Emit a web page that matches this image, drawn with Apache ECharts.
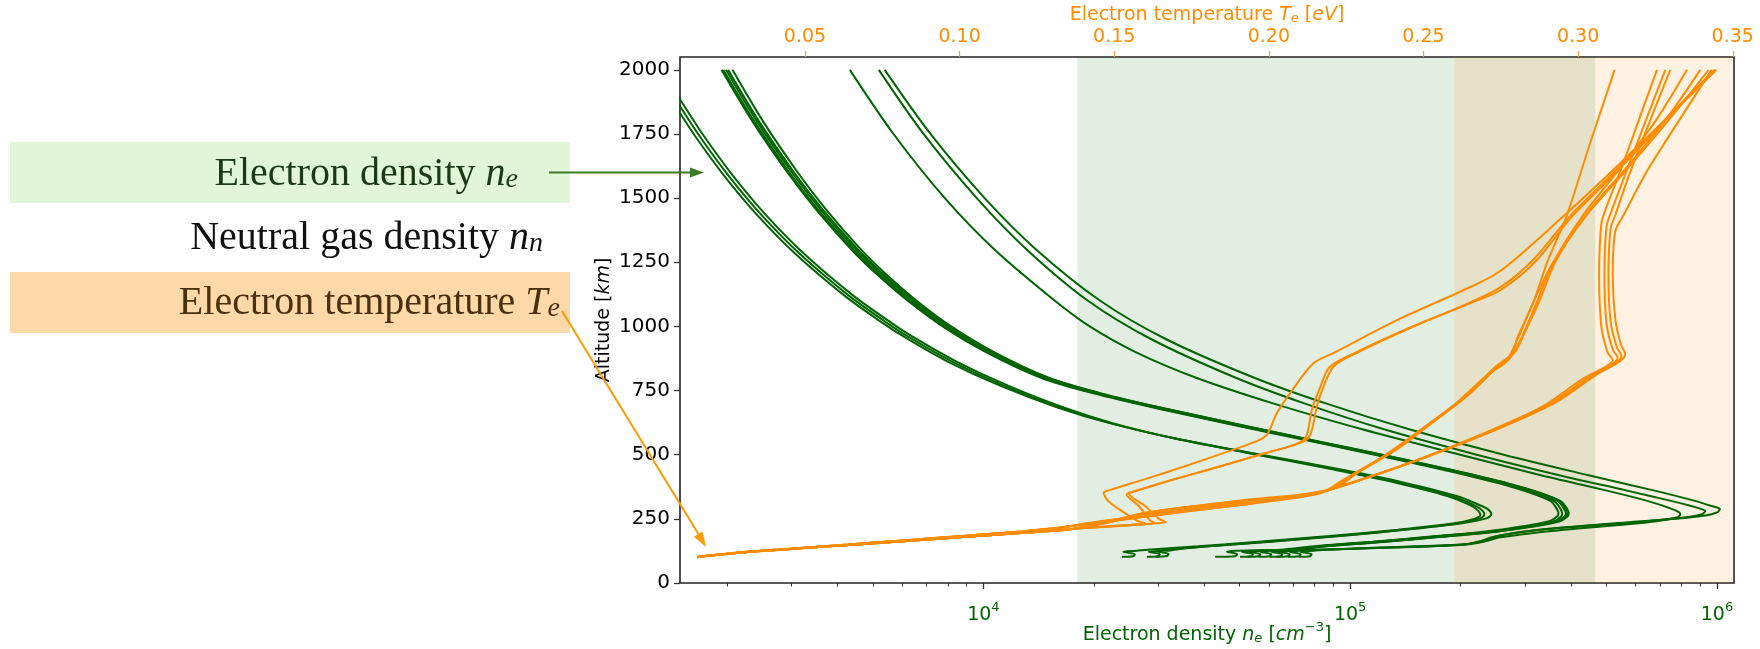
<!DOCTYPE html>
<html><head><meta charset="utf-8">
<script src="https://cdn.jsdelivr.net/npm/echarts@6/dist/echarts.min.js"></script>
<style>html,body{margin:0;padding:0;background:#fff}#c{width:1760px;height:649px}</style>
</head><body><div id="c"></div>
<script>
// ---------- axis ticks / ranges ----------
const altTicks = [0,250,500,750,1000,1250,1500,1750,2000];
const teTicks = [0.05,0.10,0.15,0.20,0.25,0.30,0.35];
const neMajor = [1e4,1e5,1e6];
const neMinor = [2000,3000,4000,5000,6000,7000,8000,9000,20000,30000,40000,50000,60000,70000,80000,90000,200000,300000,400000,500000,600000,700000,800000,900000];
const neRange = [1489, 1113000];
const teRange = [0.0096, 0.3504];
const altRange = [0, 2050];
const bandNe = [18040, 466000];
const bandTe = [0.26, 0.3504];

// ---------- electron density profiles [ne, altitude] ----------
const ne_g1a = [[1324,2000],[1531,1858],[1726,1744],[2075,1588],[2570,1430],[3296,1274],[4436,1118],[5585,1016],[6501,955],[8395,865],[11720,768],[16630,683],[22490,623],[33270,563],[54700,502],[90160,442],[133400,391],[184100,339],[216300,298],[223900,280],[226500,265],[218000,250],[190000,232],[135000,208],[88000,183],[55000,160],[38500,143],[28000,130],[26180,126],[24080,122],[25880,112],[25590,104],[23880,102]];
const ne_g1b = [[1288,2000],[1489,1858],[1679,1744],[2018,1588],[2500,1430],[3206,1274],[4315,1118],[5433,1016],[6324,955],[8166,865],[11400,768],[16260,683],[22230,623],[33340,563],[55460,502],[92260,442],[136800,391],[188800,339],[221800,298],[230100,280],[232300,267],[226000,252],[196000,232],[140000,208],[92000,183],[58000,160],[41000,143],[31000,130],[30620,126],[28250,122],[30270,112],[29920,104],[27930,102]];
const ne_g1c = [[1253,2000],[1449,1858],[1633,1744],[1963,1588],[2432,1430],[3119,1274],[4198,1118],[5284,1016],[6152,955],[7943,865],[11140,768],[16000,683],[22080,623],[33420,563],[56230,502],[94410,442],[140300,391],[195000,339],[230100,298],[239900,282],[242700,268],[235000,252],[202000,233],[145000,209],[96000,184],[61000,161],[43000,145],[34000,132],[32360,127],[29850,123],[31990,113],[31620,105],[29510,102]];
const ne_g2a = [[1932,2000],[2344,1800],[2924,1600],[3524,1450],[4365,1300],[5152,1200],[6223,1100],[7745,1000],[10160,900],[14350,800],[19860,740],[29850,680],[46770,620],[79620,550],[135200,480],[208000,420],[282500,370],[351600,320],[365600,290],[369800,272],[366000,258],[349000,241],[296000,221],[235000,201],[166000,181],[115000,161],[81000,144],[66000,131],[54950,126],[50700,122],[54330,112],[53700,104],[50120,102]];
const ne_g2b = [[1954,2000],[2371,1800],[2958,1600],[3565,1450],[4416,1300],[5212,1200],[6295,1100],[7834,1000],[10280,900],[14520,800],[20090,740],[30200,680],[47320,620],[80540,550],[137100,480],[211300,420],[287700,370],[358900,320],[374100,290],[378400,270],[375000,257],[358000,240],[304000,220],[241000,200],[170000,180],[118000,160],[83000,143],[68500,130],[57540,126],[53090,122],[56890,112],[56230,104],[52480,102]];
const ne_g2c = [[1987,2000],[2410,1800],[3006,1600],[3622,1450],[4487,1300],[5297,1200],[6397,1100],[7962,1000],[10450,900],[14760,800],[20420,740],[30690,680],[48080,620],[81850,550],[139300,480],[215300,420],[293800,370],[367300,320],[382800,290],[387300,270],[383000,257],[366000,240],[311000,220],[247000,200],[175000,180],[121000,160],[85100,143],[70800,130],[61660,126],[56880,122],[60950,112],[60260,104],[56230,102]];
const ne_g2d = [[2014,2000],[2443,1800],[3048,1600],[3673,1450],[4550,1300],[5370,1200],[6486,1100],[8072,1000],[10590,900],[14960,800],[20700,740],[31190,680],[48980,620],[83370,550],[141900,480],[219300,420],[299200,370],[374100,320],[389900,290],[394500,270],[390000,257],[372000,240],[316000,220],[251000,200],[178000,180],[123000,160],[86500,143],[72000,130],[66070,126],[60950,122],[65310,112],[64570,104],[60260,102]];
const ne_g2e = [[2070,2000],[2506,1800],[3119,1600],[3750,1450],[4634,1300],[5458,1200],[6577,1100],[8166,1000],[10690,900],[15070,800],[20800,740],[31190,680],[48750,620],[82790,550],[140900,480],[217800,420],[297200,370],[371500,320],[387300,292],[391700,274],[387000,260],[369000,243],[314000,223],[249000,203],[176000,183],[122000,163],[86000,146],[71000,132],[69180,126],[63830,122],[68390,112],[67610,104],[63100,102]];
const ne_g3a = [[4325,2000],[5689,1750],[7852,1500],[10720,1300],[15670,1100],[19500,1000],[26000,900],[38020,800],[61660,700],[107200,600],[199500,500],[331100,420],[501200,360],[645700,320],[749900,290],[788900,275],[794300,267],[776200,255],[691800,242],[562300,228],[416900,212],[316200,195],[257000,178],[229100,160],[199500,148],[131800,138],[79430,130],[48980,126],[46130,122],[49200,112],[48530,104],[42850,102]];
const ne_g3b = [[5188,2000],[6871,1750],[9594,1500],[13120,1300],[19280,1100],[28710,950],[48750,800],[74990,700],[123000,600],[221300,500],[371500,420],[568900,360],[749900,320],[851100,300],[907800,288],[929000,281],[912000,268],[812800,255],[631000,240],[436500,222],[316200,205],[257000,185],[229100,165],[204200,150],[141300,140],[93330,132],[74130,126],[68390,122],[73280,112],[72440,104],[67610,102]];
const ne_g3c = [[5383,2000],[7178,1750],[10080,1500],[13920,1300],[20830,1100],[31510,950],[54760,800],[85810,700],[144100,600],[262100,500],[446700,420],[676100,360],[871000,320],[966100,300],[1018600,288],[1000000,275],[940000,264],[800000,252],[580000,237],[385000,217],[285000,197],[242000,177],[224000,160],[200000,150],[127000,139],[89000,131],[79430,126],[73110,122],[78520,112],[77620,104],[72440,102]];

// ---------- electron temperature profiles [Te, altitude] ----------
const teTailA = [[0.0152,100],[0.0162,103],[0.0188,106],[0.027,116],[0.042,130],[0.064,148],[0.083,164],[0.101,179],[0.12,196],[0.138,212]];
const teTailB = [[0.0152,100],[0.0160,103],[0.0185,106],[0.027,117],[0.042,131],[0.064,150],[0.083,167],[0.101,183],[0.12,201],[0.132,215]];
const teTailC = [[0.0152,100],[0.0158,102],[0.018,105],[0.026,115],[0.041,129],[0.063,147],[0.082,163],[0.100,178],[0.119,194],[0.135,208]];
const te_A1 = [[0.150,222],[0.157,228],[0.160,233],[0.1575,242],[0.1525,280],[0.148,320],[0.1466,352],[0.1485,362],[0.160,405],[0.1724,453],[0.185,505],[0.1965,555],[0.1995,580],[0.2025,660],[0.2069,740],[0.2144,856],[0.2215,900],[0.2424,1030],[0.2618,1135],[0.2747,1215],[0.2951,1428],[0.3102,1597],[0.318,1688],[0.332,1850],[0.3447,2000]];
const te_A2 = [[0.152,222],[0.160,229],[0.163,234],[0.1615,245],[0.158,300],[0.154,345],[0.156,356],[0.168,400],[0.183,450],[0.197,500],[0.210,545],[0.2133,575],[0.2155,687],[0.2175,760],[0.2209,843],[0.229,900],[0.2470,1000],[0.2650,1090],[0.2747,1140],[0.2860,1250],[0.2980,1428],[0.3120,1597],[0.3280,1800],[0.3440,2000]];
const te_A3 = [[0.153,225],[0.1625,232],[0.1667,237],[0.1645,250],[0.160,300],[0.1548,348],[0.157,358],[0.169,402],[0.1835,452],[0.198,503],[0.2085,540],[0.212,570],[0.214,680],[0.2165,760],[0.2195,840],[0.2275,895],[0.2455,995],[0.2635,1085],[0.2745,1150],[0.2855,1260],[0.2975,1432],[0.3115,1600],[0.328,1805],[0.3443,2000]];
const te_B1 = [[0.1452,239],[0.1724,281],[0.1996,323],[0.2200,364],[0.2268,420],[0.2404,517],[0.2512,615],[0.2635,726],[0.2730,840],[0.2785,893],[0.2805,960],[0.2854,1090],[0.290,1250],[0.2962,1428],[0.3035,1700],[0.3118,2000]];
const te_B2 = [[0.1450,236],[0.1715,277],[0.199,318],[0.218,355],[0.2255,410],[0.239,505],[0.250,600],[0.262,710],[0.2715,820],[0.2775,870],[0.2815,950],[0.2865,1090],[0.292,1250],[0.302,1440],[0.3125,1600],[0.325,1800],[0.3352,2000]];
const te_B3 = [[0.1455,241],[0.1735,284],[0.2005,327],[0.2215,370],[0.2285,428],[0.242,525],[0.2525,622],[0.2645,733],[0.2745,850],[0.2795,900],[0.2825,970],[0.2875,1100],[0.293,1260],[0.3035,1450],[0.315,1610],[0.328,1800],[0.3395,2000]];
const te_B4 = [[0.1448,234],[0.1705,274],[0.198,315],[0.2165,350],[0.224,402],[0.2375,498],[0.2485,592],[0.2605,700],[0.2705,810],[0.2765,860],[0.2800,940],[0.2850,1080],[0.2915,1240],[0.3025,1430],[0.3145,1595],[0.329,1800],[0.3422,2000]];
const te_C1 = [[0.148,235],[0.1588,267],[0.186,309],[0.2132,344],[0.2268,392],[0.2471,476],[0.2675,573],[0.2879,684],[0.3015,796],[0.3085,840],[0.3112,868],[0.3095,900],[0.3075,1000],[0.3068,1200],[0.3075,1400],[0.3090,1460],[0.3135,1600],[0.3195,1800],[0.3255,2000]];
const te_C2 = [[0.1485,238],[0.1595,270],[0.1875,312],[0.2145,348],[0.2285,397],[0.2485,481],[0.269,578],[0.2895,690],[0.3035,802],[0.3105,848],[0.3128,878],[0.3112,910],[0.3092,1010],[0.3085,1200],[0.3092,1390],[0.3108,1450],[0.3155,1600],[0.3218,1800],[0.3282,2000]];
const te_C3 = [[0.149,241],[0.160,273],[0.1885,316],[0.2158,352],[0.2298,402],[0.2498,486],[0.2705,584],[0.2912,696],[0.305,808],[0.312,855],[0.3140,885],[0.3125,920],[0.3105,1020],[0.3098,1200],[0.3105,1380],[0.3122,1440],[0.3168,1600],[0.3232,1800],[0.3298,2000]];
const te_C4 = [[0.1495,244],[0.1608,276],[0.1895,320],[0.217,356],[0.231,407],[0.251,491],[0.272,590],[0.2925,702],[0.3062,814],[0.3132,862],[0.3152,892],[0.3138,930],[0.312,1030],[0.3112,1200],[0.312,1370],[0.315,1440],[0.322,1600],[0.3325,1800],[0.3432,2000]];

// ---------- annotation labels ----------
const boxLabels = ['Electron density ', 'Neutral gas density ', 'Electron temperature '];
const boxSymbols = [['n','e'], ['n','n'], ['T','e']];

// ---------- build ----------
const GREEN = '#006400', ORANGE = '#ff8c00';
const FONT = 'DejaVu Sans';
const neCurves = [ne_g1a, ne_g1b, ne_g1c, ne_g2a, ne_g2b, ne_g2c, ne_g2d, ne_g2e, ne_g3a, ne_g3b, ne_g3c];
const teCurves = [teTailA.concat(te_A1), teTailA.concat(te_A2), teTailA.concat(te_A3),
  teTailB.concat(te_B1), teTailB.concat(te_B2), teTailB.concat(te_B3), teTailB.concat(te_B4),
  teTailC.concat(te_C1), teTailC.concat(te_C2), teTailC.concat(te_C3), teTailC.concat(te_C4)];

function rich(color, size) {
  return {
    b: {fontFamily: FONT, fontSize: size, color: color, lineHeight: 22, verticalAlign: 'bottom'},
    i: {fontFamily: FONT, fontSize: size, color: color, fontStyle: 'italic', lineHeight: 22, verticalAlign: 'bottom'},
    sub: {fontFamily: FONT, fontSize: 13, color: color, fontStyle: 'italic', lineHeight: 13, padding: [9,0,0,0], verticalAlign: 'bottom'},
    sup: {fontFamily: FONT, fontSize: 13, color: color, lineHeight: 13, padding: [0,0,11,0], verticalAlign: 'bottom'}
  };
}

const series = [];
series.push({type: 'line', xAxisIndex: 0, yAxisIndex: 0, data: [], silent: true, z: 1,
  markArea: {silent: true, itemStyle: {color: 'rgba(0,100,0,0.11)'}, data: [[{xAxis: bandNe[0]}, {xAxis: bandNe[1]}]]}});
series.push({type: 'line', xAxisIndex: 2, yAxisIndex: 0, data: [], silent: true, z: 1,
  markArea: {silent: true, itemStyle: {color: 'rgba(255,140,0,0.11)'}, data: [[{xAxis: bandTe[0]}, {xAxis: bandTe[1]}]]}});
neCurves.forEach(d => series.push({type: 'line', xAxisIndex: 0, yAxisIndex: 0, data: d, showSymbol: false, smooth: 0.3,
  lineStyle: {color: GREEN, width: 2}, silent: true, z: 3}));
teCurves.forEach(d => series.push({type: 'line', xAxisIndex: 2, yAxisIndex: 0, data: d, showSymbol: false, smooth: 0.3,
  lineStyle: {color: ORANGE, width: 2}, silent: true, z: 4}));

// annotation graphics (outside the data area)
const serif = 'Liberation Serif';
function boxRich(color) {
  return {
    r: {fontFamily: serif, fontSize: 40, fill: color, lineHeight: 44, verticalAlign: 'bottom'},
    m: {fontFamily: serif, fontSize: 40, fill: color, fontStyle: 'italic', lineHeight: 44, verticalAlign: 'bottom'},
    s: {fontFamily: serif, fontSize: 28, fill: color, fontStyle: 'italic', lineHeight: 28, padding: [24,0,0,0], verticalAlign: 'bottom'}
  };
}
const textColors = ['#1c3a16', '#111111', '#4a300c'];
const textY = [172, 236, 301];
const textRight = [518, 543, 560];
const graphic = [
  {type: 'rect', shape: {x: 10, y: 142, width: 560, height: 61}, style: {fill: '#e0f6d6'}, z: 1},
  {type: 'rect', shape: {x: 10, y: 272, width: 560, height: 61}, style: {fill: '#fdd8a8'}, z: 1}
];
boxLabels.forEach((t, k) => graphic.push({type: 'text', x: textRight[k], y: textY[k], z: 2,
  style: {text: '{r|' + t + '}{m|' + boxSymbols[k][0] + '}{s|' + boxSymbols[k][1] + '}', align: 'right', verticalAlign: 'middle', rich: boxRich(textColors[k])}}));
// green arrow
graphic.push({type: 'line', shape: {x1: 549, y1: 172.5, x2: 692, y2: 172.5}, style: {stroke: '#3c7a28', lineWidth: 2}, z: 10});
graphic.push({type: 'polygon', shape: {points: [[704,172.5],[690,167.5],[690,177.5]]}, style: {fill: '#3c7a28'}, z: 10});
// orange arrow
graphic.push({type: 'line', shape: {x1: 562, y1: 311, x2: 699, y2: 535}, style: {stroke: '#ff9a00', lineWidth: 2}, z: 10});
graphic.push({type: 'polygon', shape: {points: [[706,547],[693.9,536.8],[702.5,531.6]]}, style: {fill: '#ff9a00'}, z: 10});

const option = {
  animation: false,
  backgroundColor: '#fff',
  grid: {left: 680, right: 26, top: 57, bottom: 66, show: true, borderColor: '#222', borderWidth: 1.6, backgroundColor: 'transparent', containLabel: false, outerBoundsMode: 'none'},
  xAxis: [
    {type: 'log', logBase: 10, position: 'bottom', min: neRange[0], max: neRange[1],
     axisLine: {show: false}, splitLine: {show: false},
     axisTick: {show: true, length: 6, lineStyle: {color: '#333', width: 1.3}, customValues: neMajor},
     axisLabel: {show: true, margin: 20, customValues: neMajor, formatter: v => '{b|10}{sup|' + Math.round(Math.log10(v)) + '}', rich: rich(GREEN, 19)},
     name: '{b|Electron density }{i|n}{sub|e}{b| [}{i|cm}{sup|−3}{b|]}', nameLocation: 'middle', nameGap: 40, nameMoveOverlap: false,
     nameTextStyle: {fontFamily: FONT, fontSize: 19, color: GREEN, rich: rich(GREEN, 19)}},
    {type: 'log', logBase: 10, position: 'bottom', min: neRange[0], max: neRange[1],
     axisLine: {show: false}, splitLine: {show: false}, axisLabel: {show: false},
     axisTick: {show: true, length: 3.5, lineStyle: {color: '#333', width: 1}, customValues: neMinor}},
    {type: 'value', position: 'top', min: teRange[0], max: teRange[1],
     axisLine: {show: false}, splitLine: {show: false},
     axisTick: {show: true, length: 6, lineStyle: {color: '#e8a050', width: 1.3}, customValues: teTicks},
     axisLabel: {show: true, margin: 10, customValues: teTicks, formatter: v => v.toFixed(2), fontFamily: FONT, fontSize: 19, color: ORANGE},
     name: '{b|Electron temperature }{i|T}{sub|e}{b| [}{i|eV}{b|]}', nameLocation: 'middle', nameGap: 32, nameMoveOverlap: false,
     nameTextStyle: {fontFamily: FONT, fontSize: 19, color: ORANGE, rich: rich(ORANGE, 19)}}
  ],
  yAxis: [
    {type: 'value', min: altRange[0], max: altRange[1], axisLine: {show: false}, splitLine: {show: false},
     axisTick: {show: true, length: 6, lineStyle: {color: '#333', width: 1.3}, customValues: altTicks},
     axisLabel: {show: true, margin: 10, customValues: altTicks, formatter: v => String(v), fontFamily: FONT, fontSize: 20, color: '#000'},
     name: '{b|Altitude [}{i|km}{b|]}', nameLocation: 'middle', nameGap: 66, nameRotate: 90, nameMoveOverlap: false,
     nameTextStyle: {fontFamily: FONT, fontSize: 19, color: '#000', rich: rich('#000', 19)}}
  ],
  series: series,
  graphic: graphic
};
const chart = echarts.init(document.getElementById('c'), null, {renderer: 'canvas'});
chart.setOption(option);
</script></body></html>
